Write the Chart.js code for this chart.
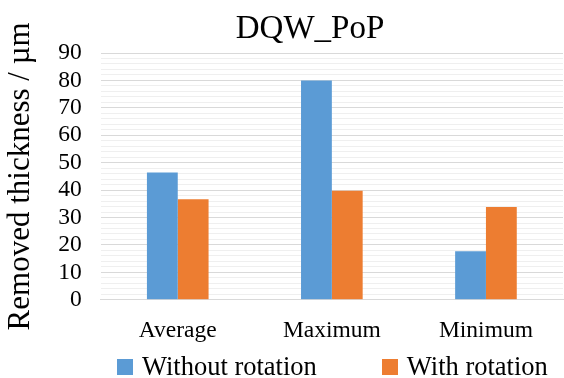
<!DOCTYPE html>
<html>
<head>
<meta charset="utf-8">
<script src="https://cdn.jsdelivr.net/npm/chart.js"></script>
<style>
    body { margin: 0; background: #fff; }
    #wrap { position: relative; width: 564px; height: 378px; }
    #chart-title {
        position: absolute; top: 11px; left: 56px; width: 508px;
        text-align: center; font: 33px/32px "Liberation Serif", serif; color: #000;
    }
    #legend {
        position: absolute; top: 354px; left: 117px;
        display: flex; gap: 65px;
        font: 26.5px/25px "Liberation Serif", serif; color: #000;
    }
    .legend-item { display: flex; align-items: center; white-space: nowrap; }
    .legend-box { width: 16px; height: 16px; margin-right: 9px; }
</style>
</head>
<body>
<div id="wrap">
    <canvas id="barChart" width="564" height="378"></canvas>
    <div id="chart-title">DQW_PoP</div>
    <div id="legend"></div>
</div>
<script>
// Chart data
const categories = ['Average', 'Maximum', 'Minimum'];
const withoutRotation = [46.4, 80, 17.7];
const withRotation = [36.7, 39.8, 33.8];
const seriesNames = ['Without rotation', 'With rotation'];
const yTicks = [0, 10, 20, 30, 40, 50, 60, 70, 80, 90];

const serif = 'Liberation Serif';

const chart = new Chart(document.getElementById('barChart'), {
    type: 'bar',
    data: {
        labels: categories,
        datasets: [{
            label: seriesNames[0],
            data: withoutRotation,
            backgroundColor: '#5B9BD5'
        }, {
            label: seriesNames[1],
            data: withRotation,
            backgroundColor: '#ED7D31'
        }]
    },
    options: {
        responsive: false,
        animation: false,
        devicePixelRatio: 1,
        layout: {
            padding: { top: 53, left: 0, right: 1, bottom: 16 }
        },
        datasets: {
            bar: { categoryPercentage: 0.4, barPercentage: 1.0 }
        },
        plugins: {
            legend: { display: false },
            title: { display: false },
            tooltip: { enabled: false }
        },
        scales: {
            x: {
                grid: { display: false, drawTicks: false },
                border: { display: true, color: '#d9d9d9', width: 1 },
                ticks: {
                    color: '#000',
                    padding: 17,
                    font: { family: serif, size: 23.5 }
                }
            },
            y: {
                min: 0,
                max: 90,
                border: { display: false },
                // minor gridlines every 2, labelled majors every 10
                grid: {
                    drawTicks: false,
                    color: ctx => yTicks.includes(ctx.tick.value) ? '#d9d9d9' : '#efefef'
                },
                ticks: {
                    stepSize: 2,
                    autoSkip: false,
                    color: '#000',
                    padding: 19,
                    font: { family: serif, size: 23.5 },
                    callback: v => yTicks.includes(v) ? v : ''
                },
                title: {
                    display: true,
                    text: 'Removed thickness / µm',
                    color: '#000',
                    padding: { top: 2, bottom: 0 },
                    font: { family: serif, size: 31, lineHeight: 1.2 }
                }
            }
        }
    }
});

// Legend built from the chart's own datasets
const legendEl = document.getElementById('legend');
chart.data.datasets.forEach(ds => {
    const item = document.createElement('div');
    item.className = 'legend-item';
    const box = document.createElement('span');
    box.className = 'legend-box';
    box.style.background = ds.backgroundColor;
    const text = document.createElement('span');
    text.textContent = ds.label;
    item.appendChild(box);
    item.appendChild(text);
    legendEl.appendChild(item);
});
</script>
</body>
</html>
